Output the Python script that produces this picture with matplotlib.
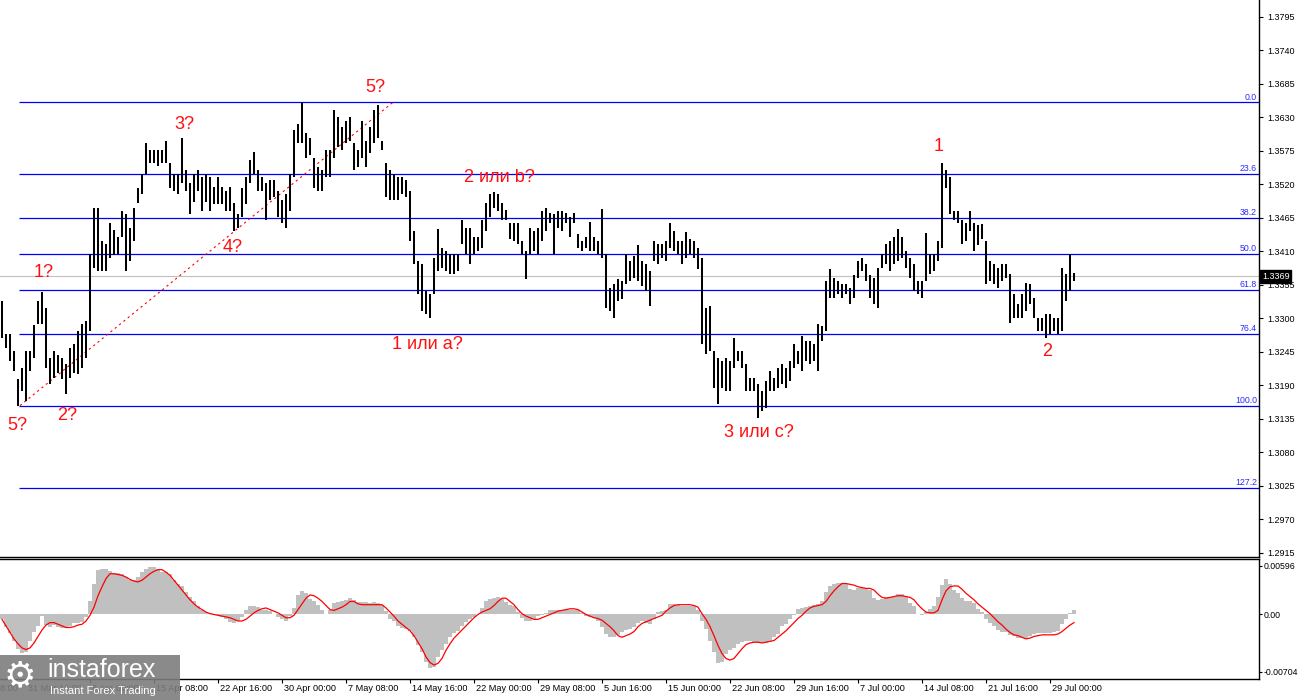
import numpy as np
import matplotlib
matplotlib.use("Agg")
import matplotlib.pyplot as plt
import matplotlib.transforms as mtransforms
from matplotlib.patches import Rectangle

plt.rcParams['font.family'] = ['Liberation Sans', 'DejaVu Sans']

# ---------------- data (prices as pips above 1.3000) ----------------
high_pips = [
    329, 275, 275, 247, 200, 219, 247, 247, 290, 329,
    343, 317, 235, 247, 240, 235, 225, 252, 258, 280,
    291, 296, 406, 482, 482, 428, 422, 456, 445, 433,
    477, 472, 449, 482, 515, 538, 588, 576, 576, 576,
    576, 592, 555, 538, 538, 597, 543, 522, 538, 543,
    532, 538, 532, 516, 532, 516, 510, 516, 489, 472,
    515, 532, 560, 573, 543, 532, 522, 527, 527, 510,
    494, 505, 538, 609, 620, 655, 604, 597, 564, 548,
    543, 576, 576, 642, 630, 614, 625, 630, 588, 576,
    625, 592, 614, 642, 650, 592, 555, 543, 538, 532,
    532, 527, 510, 444, 395, 390, 345, 340, 400, 447,
    416, 411, 406, 406, 406, 461, 449, 449, 433, 433,
    461, 489, 505, 507, 505, 489, 478, 456, 456, 456,
    428, 411, 449, 444, 449, 477, 482, 474, 472, 477,
    477, 474, 466, 474, 439, 428, 433, 458, 433, 428,
    480, 406, 350, 357, 365, 362, 406, 395, 403, 420,
    395, 390, 378, 428, 423, 423, 428, 456, 444, 428,
    428, 442, 431, 428, 416, 400, 318, 321, 247, 235,
    230, 235, 230, 268, 247, 247, 225, 202, 202, 192,
    181, 197, 214, 202, 219, 225, 219, 230, 258, 247,
    271, 263, 263, 258, 291, 288, 362, 382, 367, 362,
    357, 357, 350, 372, 395, 400, 390, 372, 367, 383,
    406, 423, 428, 433, 447, 433, 411, 400, 390, 362,
    362, 441, 406, 406, 428, 556, 543, 532, 477, 477,
    461, 456, 477, 456, 453, 455, 428, 395, 390, 383,
    390, 390, 373, 340, 324, 340, 359, 357, 334, 301,
    301, 307, 307, 301, 301, 383, 373, 406, 375,
]
low_pips = [
    268, 252, 230, 214, 156, 181, 164, 214, 235, 291,
    291, 219, 192, 202, 210, 200, 176, 202, 210, 209,
    219, 235, 280, 383, 378, 378, 378, 400, 405, 406,
    433, 378, 395, 428, 489, 505, 538, 555, 555, 550,
    555, 555, 515, 510, 505, 522, 510, 472, 492, 510,
    477, 492, 477, 488, 488, 488, 477, 477, 444, 449,
    466, 488, 522, 538, 510, 510, 461, 494, 499, 466,
    456, 449, 477, 532, 588, 588, 564, 568, 515, 510,
    510, 532, 532, 564, 581, 576, 588, 592, 543, 548,
    564, 548, 571, 588, 597, 576, 499, 494, 494, 494,
    505, 500, 428, 390, 340, 313, 308, 300, 340, 378,
    383, 378, 373, 373, 378, 423, 406, 390, 406, 411,
    416, 444, 466, 482, 477, 461, 461, 431, 428, 423,
    406, 365, 406, 411, 406, 428, 444, 456, 406, 449,
    444, 456, 433, 456, 416, 411, 416, 411, 411, 406,
    400, 318, 313, 301, 329, 332, 357, 362, 367, 362,
    354, 345, 321, 395, 390, 400, 395, 416, 411, 406,
    390, 400, 406, 400, 381, 258, 242, 247, 186, 159,
    186, 181, 181, 219, 230, 219, 181, 181, 181, 136,
    148, 153, 181, 181, 186, 192, 186, 197, 219, 225,
    214, 230, 225, 230, 214, 263, 280, 334, 334, 340,
    334, 340, 324, 334, 367, 378, 362, 334, 324, 318,
    383, 390, 378, 390, 395, 400, 383, 367, 345, 340,
    334, 362, 373, 378, 395, 416, 515, 472, 461, 456,
    423, 428, 444, 411, 420, 431, 357, 362, 357, 350,
    362, 367, 293, 301, 301, 301, 313, 324, 301, 280,
    280, 268, 275, 280, 275, 280, 329, 345, 362,
]
# MACD histogram and signal line, in units of 0.001
macd_hist_e3 = [
    -0.6, -1.5, -2.3, -3.3, -4.2, -4.7, -4.6, -3.2, -2.2, -1.4,
    -0.2, -1.3, -1.5, -1.3, -1.5, -1.7, -1.6, -1.4, -1.1, -1.0,
    -0.9, -0.3, 1.6, 3.7, 5.5, 5.6, 5.6, 5.3, 5.1, 5.1,
    5.0, 4.6, 4.2, 4.2, 4.6, 5.2, 5.6, 5.8, 5.8, 5.6,
    5.2, 5.2, 5.0, 4.2, 3.8, 3.5, 2.8, 2.1, 1.6, 1.0,
    0.5, 0.3, 0.2, 0.1, -0.1, -0.3, -0.6, -0.9, -1.0, -0.8,
    -0.3, 0.5, 1.0, 1.1, 0.9, 0.6, 0.5, 0.4, 0.1, -0.3,
    -0.6, -0.8, -0.2, 0.8, 2.4, 2.9, 2.6, 1.9, 1.6, 1.2,
    0.5, 0.1, 0.6, 1.4, 1.5, 1.6, 1.8, 2.0, 1.8, 1.5,
    1.5, 1.5, 1.4, 1.5, 1.4, 1.2, 0.4, -0.5, -0.8, -1.4,
    -1.7, -1.8, -2.0, -2.8, -3.8, -4.6, -5.8, -6.6, -6.5, -5.2,
    -4.4, -3.6, -2.8, -2.3, -2.0, -1.4, -0.9, -0.5, -0.3, 0.0,
    0.8, 1.6, 1.9, 2.0, 2.2, 1.9, 1.5, 1.2, 1.0, 0.3,
    -0.4, -0.8, -0.8, -0.5, -0.2, -0.1, 0.2, 0.5, 0.6, 0.6,
    0.6, 0.7, 0.6, 0.6, 0.5, 0.2, -0.2, -0.3, -0.4, -0.8,
    -1.5, -2.4, -2.8, -2.8, -2.5, -2.1, -1.9, -1.8, -1.5, -1.1,
    -0.8, -1.0, -1.2, -0.6, 0.3, 0.4, 0.6, 1.3, 1.3, 1.2,
    1.1, 1.1, 1.0, 1.0, 0.5, -0.8, -1.8, -3.2, -4.6, -6.0,
    -5.8, -4.8, -4.4, -4.1, -3.6, -3.4, -3.3, -3.3, -3.4, -3.5,
    -3.5, -3.5, -3.3, -2.8, -2.4, -1.4, -1.2, -0.5, -0.1, 0.7,
    0.8, 0.9, 1.1, 1.2, 1.3, 1.6, 2.8, 3.5, 3.8, 3.9,
    3.9, 3.8, 3.1, 3.0, 3.3, 3.3, 3.2, 3.0, 2.0, 1.8,
    1.9, 2.1, 2.1, 2.2, 2.5, 2.5, 2.3, 1.4, 1.0, 0.1,
    -0.1, 0.3, 0.7, 1.0, 2.1, 3.6, 4.3, 3.8, 3.0, 2.6,
    2.0, 1.7, 1.7, 1.4, 0.7, 0.3, -0.6, -1.1, -1.4, -1.9,
    -2.1, -2.2, -2.5, -2.7, -2.9, -2.9, -2.9, -2.6, -2.4, -2.3,
    -2.3, -2.3, -2.3, -2.2, -2.0, -1.2, -0.5, 0.2, 0.6,
]
macd_signal_e3 = [
    -0.6, -1.4, -2.2, -3.0, -3.6, -4.1, -4.3, -4.1, -3.5, -2.7,
    -1.9, -1.3, -1.0, -1.0, -1.2, -1.4, -1.6, -1.6, -1.5, -1.3,
    -1.2, -0.8, -0.1, 0.9, 2.3, 3.4, 4.4, 5.0, 5.0, 4.9,
    4.8, 4.6, 4.3, 4.1, 4.0, 4.2, 4.6, 5.0, 5.3, 5.5,
    5.5, 5.2, 4.8, 4.2, 3.6, 3.0, 2.4, 1.8, 1.3, 0.9,
    0.6, 0.3, 0.1, 0.0, -0.1, -0.2, -0.3, -0.4, -0.6, -0.8,
    -0.8, -0.6, -0.2, 0.2, 0.5, 0.7, 0.8, 0.6, 0.4, 0.2,
    -0.1, -0.4, -0.4, -0.1, 0.6, 1.3, 2.0, 2.4, 2.3, 2.0,
    1.6, 1.1, 0.6, 0.5, 0.7, 0.9, 1.2, 1.6, 1.6, 1.3,
    1.2, 1.2, 1.2, 1.2, 1.2, 1.2, 0.8, 0.3, -0.2, -0.8,
    -1.2, -1.6, -2.0, -2.6, -3.4, -4.2, -5.2, -5.9, -6.2, -6.0,
    -5.4, -4.4, -3.6, -2.9, -2.4, -1.9, -1.4, -0.9, -0.4, 0.0,
    0.3, 0.5, 0.7, 1.1, 1.6, 2.0, 2.0, 1.6, 1.2, 0.6,
    0.1, -0.2, -0.4, -0.6, -0.6, -0.4, -0.2, 0.0, 0.2, 0.4,
    0.5, 0.6, 0.7, 0.7, 0.6, 0.3, 0.0, -0.2, -0.4, -0.5,
    -0.7, -1.1, -1.5, -2.0, -2.6, -2.8, -2.6, -2.4, -2.1, -1.5,
    -1.1, -0.9, -0.7, -0.5, -0.3, -0.1, 0.4, 0.8, 1.1, 1.2,
    1.2, 1.2, 1.2, 1.1, 0.9, 0.1, -0.6, -1.5, -2.6, -3.8,
    -4.8, -5.4, -5.6, -5.4, -4.8, -4.2, -3.7, -3.5, -3.4, -3.4,
    -3.5, -3.4, -3.3, -3.2, -2.8, -2.4, -2.0, -1.5, -1.0, -0.5,
    -0.1, 0.4, 0.8, 1.0, 1.1, 1.2, 1.6, 2.3, 2.9, 3.4,
    3.8, 3.8, 3.7, 3.6, 3.4, 3.3, 3.2, 3.2, 3.0, 2.5,
    2.1, 2.0, 2.1, 2.2, 2.3, 2.3, 2.2, 2.1, 1.8, 1.2,
    0.7, 0.3, 0.2, 0.2, 0.5, 1.8, 2.9, 3.4, 3.5, 3.5,
    3.1, 2.6, 2.2, 1.8, 1.3, 0.9, 0.5, 0.1, -0.4, -0.9,
    -1.3, -1.8, -2.2, -2.5, -2.6, -2.8, -3.0, -2.9, -2.7, -2.6,
    -2.5, -2.5, -2.5, -2.5, -2.4, -2.1, -1.7, -1.3, -1.0,
]

date_labels = ["24 Mar 08:00", "31 Mar 16:00", "8 Apr 00:00", "15 Apr 08:00",
               "22 Apr 16:00", "30 Apr 00:00", "7 May 08:00", "14 May 16:00",
               "22 May 00:00", "29 May 08:00", "5 Jun 16:00", "15 Jun 00:00",
               "22 Jun 08:00", "29 Jun 16:00", "7 Jul 00:00", "14 Jul 08:00",
               "21 Jul 16:00", "29 Jul 00:00"]
date_label_bars = [-10, 6, 22, 38, 54, 70, 86, 102, 118, 134, 150, 166,
                   182, 198, 214, 230, 246, 262]

price_ticks = [1.3795, 1.3740, 1.3685, 1.3630, 1.3575, 1.3520, 1.3465, 1.3410,
               1.3355, 1.3300, 1.3245, 1.3190, 1.3135, 1.3080, 1.3025, 1.2970,
               1.2915]
macd_ticks = [0.00596, 0.0, -0.00704]
macd_tick_labels = ["0.00596", "0.00", "-0.00704"]

fib_ratios = [0.0, 23.6, 38.2, 50.0, 61.8, 76.4, 100.0, 127.2]
fib_high = 1.3655
fib_low = 1.3157
fib_start_bar = 4.25
last_price = 1.3369
trend_bars = [4.5, 97.75]
trend_prices = [1.3157, 1.3655]

wave_labels = [("5?", 3.75, 1.3125), ("2?", 16.25, 1.3140), ("1?", 10.5, 1.3376),
               ("3?", 45.5, 1.3619), ("4?", 57.75, 1.3417), ("5?", 93.25, 1.3680),
               ("1 или a?", 106.25, 1.3257), ("2 или b?", 124.25, 1.3532),
               ("3 или c?", 189.25, 1.3112), ("1", 234.25, 1.3582),
               ("2", 261.25, 1.3245)]

# ---------------- derived ----------------
high = 1.3 + np.array(high_pips) / 1e4
low = 1.3 + np.array(low_pips) / 1e4
hist = np.array(macd_hist_e3) / 1e3
signal = np.array(macd_signal_e3) / 1e3
x = np.arange(len(high))

W, H = 1300, 700
fig = plt.figure(figsize=(13, 7), dpi=100)
fig.patch.set_facecolor("white")
ax = fig.add_axes([0, 143 / H, 1259 / W, 557 / H])
mx = fig.add_axes([0, 21 / H, 1259 / W, 120 / H])

xmin, xmax = -0.5, 314.25
for a in (ax, mx):
    a.set_xlim(xmin, xmax)
    a.set_facecolor("white")
    a.spines["left"].set_visible(False)
    for s in ("right", "bottom", "top"):
        a.spines[s].set_color("black")
        a.spines[s].set_linewidth(1.0)
ax.spines["top"].set_visible(False)

ax.set_ylim(1.29084, 1.38229)
mx.set_ylim(-0.00792, 0.00681)

# current price line
ax.axhline(last_price, color="#c0c0c0", lw=0.8, zorder=1)

# fibonacci levels
ytr = mtransforms.blended_transform_factory(ax.transAxes, ax.transData)
for r in fib_ratios:
    lvl = fib_high - r / 100.0 * (fib_high - fib_low)
    ax.hlines(lvl, fib_start_bar, xmax, colors="#0000ff", lw=0.9, zorder=2)
    ax.text(0.9985, lvl + 0.00012, f"{r:.1f}", transform=ytr,
            ha="right", va="bottom", color="#2b2bff", fontsize=6.3)

# trend line
ax.plot(trend_bars, trend_prices, color="red", lw=0.8, linestyle=(0, (2, 3)), zorder=3)

# price bars
ax.vlines(x, low, high, colors="black", linewidth=1.45, zorder=4)

# wave labels
for t, bx, py in wave_labels:
    ax.text(bx, py, t, ha="center", va="center", color="#ff1010", fontsize=13, zorder=5)

# price axis
ax.yaxis.tick_right()
ax.set_yticks(price_ticks)
ax.set_yticklabels([f"{p:.4f}" for p in price_ticks])
ax.tick_params(axis="y", direction="out", length=3, width=0.8, labelsize=6.5, pad=3, colors="black")
ax.set_xticks([])

# current price tag
ax.text(1.0 + 3 / 1259, last_price, "1.3369", transform=ytr,
        ha="left", va="center", color="white", fontsize=6.5, zorder=10, clip_on=False,
        bbox=dict(facecolor="black", edgecolor="black", pad=1.2))

# MACD
mx.bar(x, hist, width=1.0, color="#c0c0c0", linewidth=0, zorder=2)
mx.plot(x, signal, color="red", lw=0.9, zorder=3)
mx.yaxis.tick_right()
mx.set_yticks(macd_ticks)
mx.set_yticklabels(macd_tick_labels)
mx.tick_params(axis="y", direction="out", length=2, width=0.8, labelsize=6.3, pad=1.5)

in_range = [b for b in date_label_bars if xmin <= b <= xmax]
mx.set_xticks(in_range)
mx.set_xticklabels([])
mx.tick_params(axis="x", direction="out", length=3, width=0.8)
btr = mtransforms.blended_transform_factory(mx.transData, mx.transAxes)
for b, lab in zip(date_label_bars, date_labels):
    mx.text(b + 0.6, -0.045, lab, transform=btr, ha="left", va="top", fontsize=6.6,
            color="black", clip_on=False)

# logo overlay
fig.patches.append(Rectangle((0, 0), 180 / W, 45 / H, transform=fig.transFigure,
                             facecolor="#7d7d7d", edgecolor="none", alpha=0.9, zorder=20))
fig.text(20 / W, (700 - 676) / H, "\u2699", color="white", fontsize=26,
         ha="center", va="center", zorder=21, family=["DejaVu Sans"])
fig.text(47 / W, (700 - 670) / H, "instaforex", color="white", fontsize=18,
         ha="left", va="center", zorder=21)
fig.text(50 / W, (700 - 691) / H, "Instant Forex Trading", color="white", fontsize=8,
         ha="left", va="center", zorder=21)

fig.savefig("out.png", dpi=100)
